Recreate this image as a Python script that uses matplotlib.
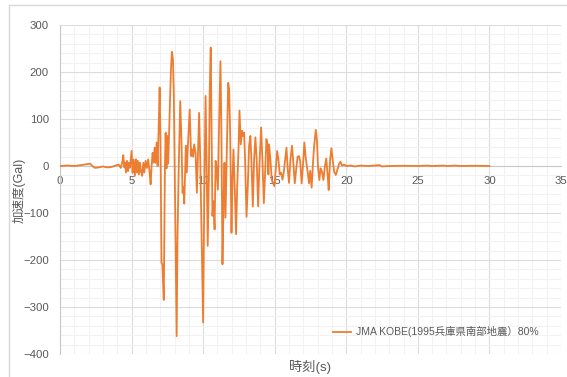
import matplotlib
matplotlib.use("Agg")
import matplotlib.pyplot as plt
from matplotlib.ticker import MultipleLocator
from matplotlib.lines import Line2D

# ----------------------------------------
# Data
# ----------------------------------------
time_s = [
  0.0, 0.5, 1.0, 1.5, 1.9, 2.1, 2.3, 2.45, 2.7, 3.0, 3.3, 3.6, 3.9, 4.1, 4.25, 4.35,
  4.42, 4.5, 4.54, 4.61, 4.68, 4.75, 4.82, 4.89, 5.0, 5.07, 5.14, 5.23, 5.3, 5.37,
  5.44, 5.51, 5.58, 5.65, 5.74, 5.82, 5.89, 5.98, 6.07, 6.16, 6.26, 6.33, 6.4, 6.47,
  6.54, 6.61, 6.68, 6.75, 6.82, 6.89, 6.96, 7.02, 7.09, 7.15, 7.25, 7.33, 7.38, 7.44,
  7.49, 7.56, 7.65, 7.75, 7.82, 7.89, 7.95, 8.05, 8.15, 8.21, 8.3, 8.4, 8.48, 8.56,
  8.62, 8.68, 8.79, 8.86, 8.93, 9.06, 9.16, 9.23, 9.3, 9.37, 9.47, 9.56, 9.63, 9.72,
  9.8, 9.91, 10.0, 10.08, 10.17, 10.24, 10.32, 10.4, 10.46, 10.53, 10.6, 10.65, 10.72,
  10.8, 10.87, 10.93, 11.03, 11.12, 11.21, 11.28, 11.35, 11.42, 11.49, 11.56, 11.65,
  11.75, 11.82, 11.89, 11.98, 12.05, 12.12, 12.21, 12.3, 12.38, 12.47, 12.54, 12.63,
  12.72, 12.79, 12.86, 12.93, 13.03, 13.12, 13.21, 13.3, 13.37, 13.47, 13.56, 13.65,
  13.74, 13.84, 13.93, 14.05, 14.14, 14.24, 14.33, 14.42, 14.51, 14.56, 14.6, 14.7,
  14.79, 14.98, 15.07, 15.17, 15.26, 15.35, 15.44, 15.54, 15.63, 15.72, 15.82, 15.91,
  16.0, 16.1, 16.21, 16.3, 16.4, 16.5, 16.6, 16.7, 16.78, 16.88, 16.97, 17.07, 17.17,
  17.3, 17.4, 17.48, 17.58, 17.68, 17.75, 17.87, 17.95, 18.03, 18.12, 18.2, 18.3,
  18.4, 18.5, 18.6, 18.7, 18.77, 18.87, 18.96, 19.05, 19.15, 19.27, 19.38, 19.5, 19.6,
  19.7, 19.85, 20.0, 20.3, 20.6, 21.0, 21.5, 22.0, 22.3, 22.5, 23.0, 24.0, 25.0, 25.6,
  26.0, 26.8, 27.0, 27.6, 28.0, 29.0, 30.0,
]
accel_gal = [
  0, 1, 0, 2, 4, 5, -1, -4, -3, -1, -3, -2, 1, 3, -4, 8,
  23, -3, 7, -14, 11, -11, 7, -4, 32, -14, 14, -21, 14, -14,
  11, -18, 7, -11, -21, 7, -14, 11, -4, 14, -14, -39, 0, 28,
  7, 39, 7, 50, 0, 78, 167, 60, -206, -209, -285, 0, 71, -5,
  64, 5, 99, 206, 243, 227, 156, -113, -362, -149, 5, 138, 60, -57,
  -45, -80, 43, -14, 40, 120, 21, 35, 20, 46, 28, -57, 15, 113,
  10, -184, -333, -60, 149, 10, -170, -20, 160, 252, 30, -106, -75,
  -135, 11, 0, -50, 99, 223, 65, -209, -85, 7, -110, 28,
  177, 163, 64, -142, -28, 35, -50, -145, -43, 35, 118, 46,
  75, 64, 71, 14, -108, -43, 43, 64, 14, -86, 14, 61,
  14, -86, 0, 82, 14, -79, -14, 57, 43, -18, 46, 14,
  -29, -43, -7, 32, 14, -18, -14, -29, -14, 11, 39, -7,
  -36, 14, 43, 7, -37, -7, 20, 21, 10, -37, 0, 50, 16,
  -12, -37, -10, -46, 10, 41, 77, 55, -5, -30, -5, -12,
  -30, -2, 16, -20, -51, 13, 38, 13, -12, -19, -8, 5, 9,
  1, 3, 0, 1, -1, 1, 0, 1, 2, -1, 0, 0.5, 0, 1,
  0, 1, 0, 1, 0, 0.5, 0,
]
series_label = "JMA KOBE(1995兵庫県南部地震）80%"
x_ticks = [0, 5, 10, 15, 20, 25, 30, 35]
y_ticks = [-400, -300, -200, -100, 0, 100, 200, 300]

# ----------------------------------------
# Style
# ----------------------------------------
plt.rcParams['font.family'] = ['Liberation Sans', 'Noto Sans CJK JP', 'DejaVu Sans']
TEXT = "#595959"
LINE = "#ED7D31"

W, H = 567, 377
fig = plt.figure(figsize=(W / 100, H / 100), dpi=100)
fig.patch.set_facecolor("white")

# outer chart border (top and left visible only)
fig.add_artist(Line2D([9 / W, 9 / W], [0, 1 - 5 / H], color="#d9d9d9", lw=1,
                      transform=fig.transFigure))
fig.add_artist(Line2D([9 / W, 1], [1 - 5 / H, 1 - 5 / H], color="#d9d9d9", lw=1,
                      transform=fig.transFigure))

ax = fig.add_axes([60 / W, 1 - 354 / H, 501 / W, 329 / H])
ax.plot(time_s, accel_gal, color=LINE, lw=1.3, label=series_label, zorder=3)

ax.set_xlim(0, 35)
ax.set_ylim(-400, 300)
ax.set_xticks(x_ticks)
ax.set_yticks(y_ticks)
ax.xaxis.set_minor_locator(MultipleLocator(1))
ax.yaxis.set_minor_locator(MultipleLocator(20))

ax.grid(which="major", color="#dcdcdc", lw=0.8)
ax.grid(which="minor", color="#f2f2f2", lw=0.8)
ax.set_axisbelow(True)

for side in ("top", "right"):
  ax.spines[side].set_visible(False)
ax.spines["left"].set_color("#c8c8c8")
ax.spines["bottom"].set_position(("data", 0))
ax.spines["bottom"].set_color("#c8c8c8")

ax.tick_params(which="both", length=0, labelsize=8.2, colors=TEXT)
ax.tick_params(axis="x", pad=7)
ax.tick_params(axis="y", pad=8)

fig.text(19 / W, 1 - 190 / H, "加速度(Gal)", rotation=90, ha="center", va="center",
         fontsize=9, color=TEXT)
fig.text(310 / W, 1 - 367 / H, "時刻(s)", ha="center", va="center",
         fontsize=9.5, color=TEXT)

leg = ax.legend(loc="center right", bbox_to_anchor=(0.965, 0.067), frameon=False,
                fontsize=7.5, handlelength=1.8, handletextpad=0.4, borderpad=0)
for txt in leg.get_texts():
  txt.set_color(TEXT)

fig.savefig("out.png", dpi=100, facecolor="white")
